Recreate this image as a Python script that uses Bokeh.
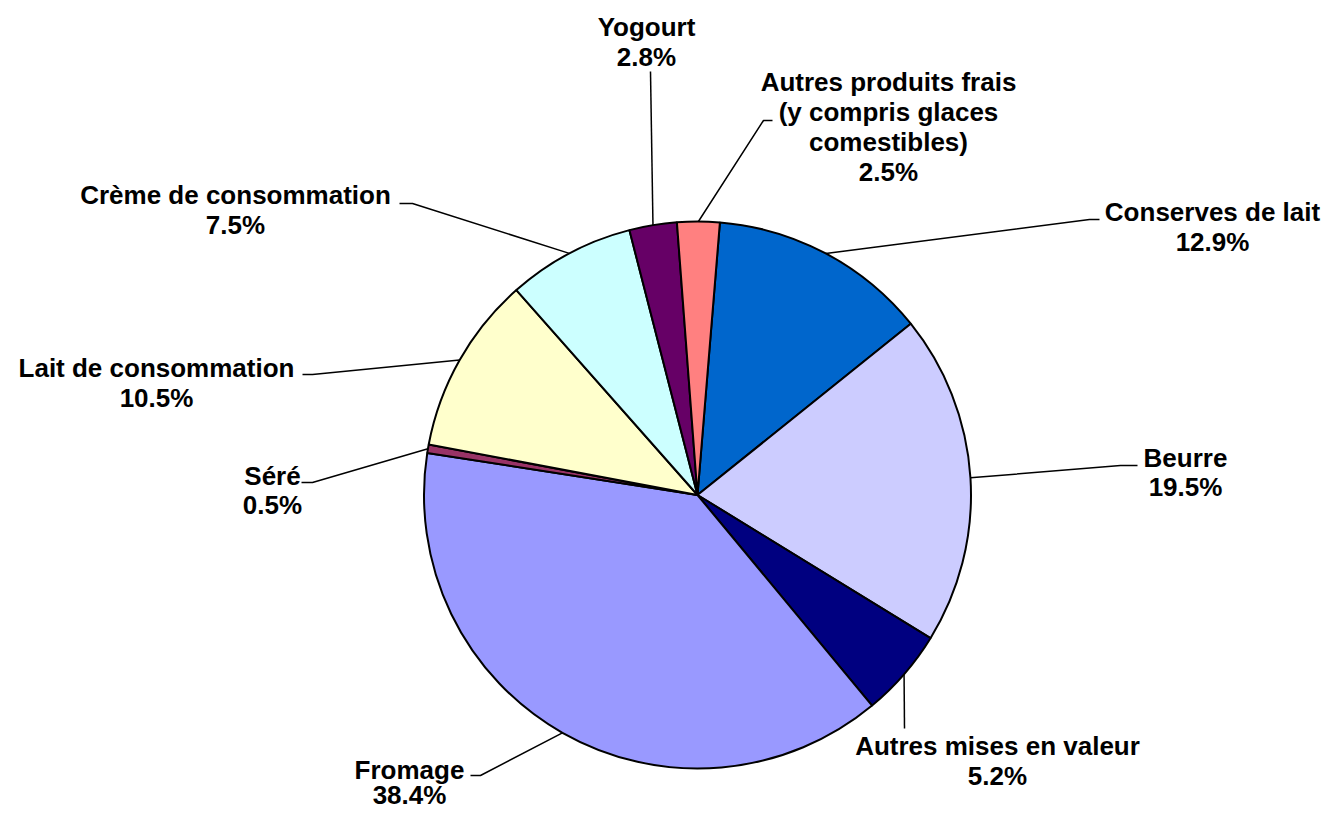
import math
from bokeh.plotting import figure
from bokeh.models import Range1d, ColumnDataSource
from bokeh.core.properties import value
from bokeh.embed import file_html
from bokeh.resources import INLINE

# ---- data ----
categories = ["Conserves de lait", "Beurre", "Autres mises en valeur", "Fromage", "Séré",
              "Lait de consommation", "Crème de consommation", "Yogourt",
              "Autres produits frais (y compris glaces comestibles)"]
label_lines = [["Conserves de lait"], ["Beurre"], ["Autres mises en valeur"], ["Fromage"], ["Séré"],
               ["Lait de consommation"], ["Crème de consommation"], ["Yogourt"],
               ["Autres produits frais", "(y compris glaces", "comestibles)"]]
values = [12.9, 19.5, 5.2, 38.4, 0.5, 10.5, 7.5, 2.8, 2.5]
colors = ["#0066CC", "#CCCCFF", "#000080", "#9999FF", "#993366",
          "#FFFFCC", "#CCFFFF", "#660066", "#FF8080"]

# ---- layout (image pixel coords, y downward) ----
IMG_H = 827
FIG_W, FIG_H = 1323, 811
CX, CY, R = 697, 494.5, 273.5
START_DEG = 4.7  # clockwise from 12 o'clock
TEXT_DY = 9      # rendered baseline sits this much below requested position
# label: (center x, first baseline y, line spacing)
label_pos = [(1212, 220, 30), (1185, 466, 29), (997, 754, 30), (409, 778, 25), (272, 484, 29),
             (156, 376, 30), (235, 203, 30), (646, 35, 30), (888, 90, 30)]
# leader: list of extra points after the anchor on the pie edge
leader_pts = [[(1089, 219), (1099, 219)], [(1120, 465), (1137, 465)], [(904, 728)],
              [(480, 775), (470, 775)], [(312, 482), (301, 482)], [(312, 374), (302, 374)],
              [(412, 203), (399, 203)], [(650, 71)], [(763, 120), (772, 120)]]


def Y(y):
    return IMG_H - y


p = figure(width=FIG_W, height=FIG_H, x_range=Range1d(0, FIG_W), y_range=Range1d(IMG_H - FIG_H, IMG_H),
           output_backend="svg", toolbar_location=None, min_border=0)
p.axis.visible = False
p.grid.visible = False
p.outline_line_color = None
p.background_fill_color = "white"
p.border_fill_color = "white"

total = sum(values)
starts, ends, mids = [], [], []
acc = START_DEG
for v in values:
    span = v / total * 360.0
    s, e = acc, acc + span
    starts.append(math.radians(90 - s))
    ends.append(math.radians(90 - e))
    mids.append((s + e) / 2)
    acc = e

src = ColumnDataSource(dict(start=starts, end=ends, color=colors, cat=categories))
p.wedge(x=CX, y=Y(CY), radius=R, start_angle="start", end_angle="end", direction="clock",
        fill_color="color", line_color="black", line_width=2, source=src)

# leader lines
xs, ys = [], []
for i, m in enumerate(mids):
    ax = CX + R * math.sin(math.radians(m))
    ay = CY - R * math.cos(math.radians(m))
    px = [ax] + [pt[0] for pt in leader_pts[i]]
    py = [Y(ay)] + [Y(pt[1]) for pt in leader_pts[i]]
    xs.append(px)
    ys.append(py)
p.multi_line(xs=xs, ys=ys, line_color="black", line_width=1.5)

# labels
tx, ty, tt = [], [], []
for i, v in enumerate(values):
    lines = label_lines[i] + [f"{v:.1f}%"]
    cx, by, sp = label_pos[i]
    for k, ln in enumerate(lines):
        tx.append(cx)
        ty.append(Y(by + k * sp - TEXT_DY))
        tt.append(ln)
p.text(x=tx, y=ty, text=tt, text_font=value("Liberation Sans"), text_font_style="bold",
       text_font_size="26px", text_align="center", text_baseline="alphabetic", text_color="black")

open("out.html", "w").write(file_html(p, INLINE))
